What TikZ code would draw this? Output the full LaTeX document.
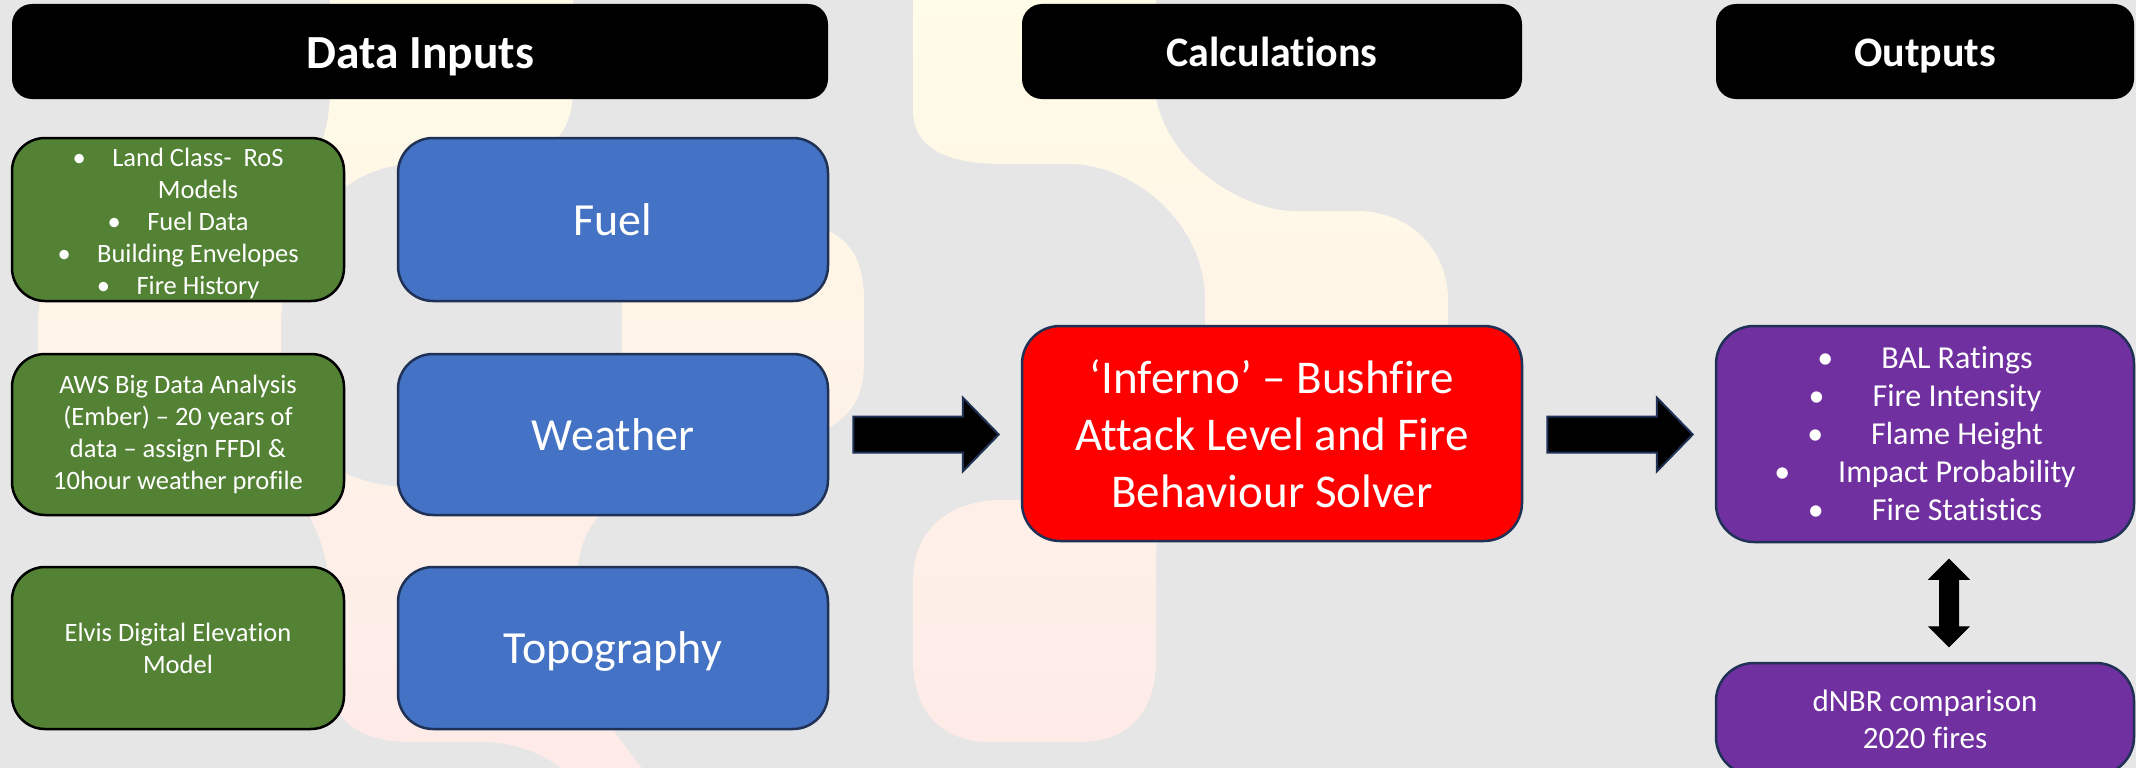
\documentclass[tikz,border=0pt]{standalone}
\usepackage{fontspec}
\setmainfont{Carlito}[Ligatures=NoCommon]
\usetikzlibrary{calc}
\definecolor{bggray}{HTML}{E6E6E6}
\definecolor{creamc}{HTML}{FFFCE7}
\definecolor{peachc}{HTML}{FEF3E8}
\definecolor{pinkc}{HTML}{FEEAE8}
\definecolor{greenf}{HTML}{548235}
\definecolor{bluef}{HTML}{4472C4}
\definecolor{navy}{HTML}{1F3155}
\definecolor{purplef}{HTML}{7030A0}
\newcommand\gbul[1]{\makebox[14pt][c]{•}\hspace{26pt}#1}
\newcommand\pbul[1]{\makebox[16pt][c]{•}\hspace{48pt}#1}
\newcommand\bgshade{\shade[top color=creamc, middle color=peachc, bottom color=pinkc] (-10,-10) rectangle (2146,778);}
\tikzset{
  hdr/.style={fill=black, rounded corners=20pt, text=white, inner sep=0pt, minimum height=95pt, text depth=0pt},
  gbox/.style={draw=black, line width=2.5pt, fill=greenf, rounded corners=33pt, text=white, align=center,
    font=\fontsize{26.5}{32}\selectfont, minimum width=332pt, inner sep=0pt},
  bbox/.style={draw=navy, line width=2.5pt, fill=bluef, rounded corners=35pt, text=white,
    font=\fontsize{46}{55}\selectfont, minimum width=430pt, minimum height=163pt, inner sep=0pt,
    text height=31pt, text depth=0pt},
  rbox/.style={draw=navy, line width=2.5pt, fill=red, rounded corners=38pt, text=white, align=center,
    font=\fontsize{47}{57}\selectfont, minimum width=500pt, minimum height=215pt, inner sep=0pt},
  pbox/.style={draw=navy, line width=2.5pt, fill=purplef, rounded corners=38pt, text=white, align=center,
    font=\fontsize{32}{38}\selectfont, minimum width=418pt, inner sep=0pt},
  blk/.style={fill=black, draw=navy, line width=2pt, line join=miter},
  blk2/.style={fill=black, draw=black, line width=1pt, line join=miter}
}
\begin{document}
\begin{tikzpicture}[x=1pt,y=-1pt]
\useasboundingbox (0,0) rectangle (2136,768);
\clip (0,0) rectangle (2136,768);
\fill[bggray] (0,0) rectangle (2136,768);
% background pipes
\begin{scope}
\clip (330,-20) -- (330,90) .. controls (330,150) and (300,211) .. (230,211) -- (140,211)
  .. controls (70,211) and (38,260) .. (38,330) -- (38,380)
  .. controls (38,440) and (80,445) .. (150,445) -- (180,445)
  .. controls (280,445) and (330,520) .. (330,600) -- (330,680)
  .. controls (330,720) and (360,742) .. (410,742) -- (480,742)
  .. controls (560,742) and (600,800) .. (630,860) -- (720,860) -- (660,790)
  .. controls (610,730) and (573,680) .. (573,620) -- (573,600)
  .. controls (573,520) and (500,487) .. (420,487) -- (400,487)
  .. controls (320,480) and (281,430) .. (281,370) -- (281,326)
  .. controls (281,250) and (330,164) .. (416,164) -- (483,164)
  .. controls (540,164) and (573,140) .. (573,90) -- (573,-20) -- cycle;
\bgshade
\end{scope}
\begin{scope}
\clip (450,560) .. controls (520,480) and (622,440) .. (622,360) -- (622,290)
  .. controls (622,245) and (645,225) .. (690,225) -- (795,225)
  .. controls (840,225) and (864,250) .. (864,300) -- (864,362)
  .. controls (864,410) and (840,436) .. (760,448)
  .. controls (650,465) and (577,500) .. (577,580) -- (540,600) -- cycle;
\bgshade
\end{scope}
\begin{scope}
\clip (913,-20) -- (913,110) .. controls (913,150) and (950,164) .. (1003,164) -- (1070,164)
  .. controls (1130,164) and (1205,220) .. (1205,300) -- (1205,340)
  .. controls (1205,440) and (1150,500) .. (1070,500) -- (1001,500)
  .. controls (950,500) and (913,530) .. (913,580) -- (913,660)
  .. controls (913,710) and (940,742) .. (990,742) -- (1080,742)
  .. controls (1130,742) and (1156,710) .. (1156,660) -- (1156,560)
  .. controls (1156,490) and (1200,450) .. (1290,450) -- (1340,450)
  .. controls (1420,450) and (1448,400) .. (1448,330) -- (1448,300)
  .. controls (1448,250) and (1410,211) .. (1357,211) -- (1294,211)
  .. controls (1250,211) and (1170,170) .. (1156,98) -- (1156,-20) -- cycle;
\bgshade
\end{scope}
% headers
\node[hdr, minimum width=816pt, text height=33pt, font=\bfseries\fontsize{47.5}{56}\selectfont] (hin) at (420,51.5) {Data Inputs};
\node[hdr, minimum width=500pt, text height=30.5pt, font=\bfseries\fontsize{42}{50}\selectfont] (hcalc) at (1272,51.5) {Calculations};
\node[hdr, minimum width=418pt, text height=30.5pt, font=\bfseries\fontsize{42}{50}\selectfont] (hout) at (1925,51.5) {Outputs};
% inputs
\node[gbox, minimum height=163pt] (g1) at (178,219.5) {\rule{0pt}{27pt}\gbul{Land Class-~~RoS}\\ \hspace*{40pt}Models\\ \gbul{Fuel Data}\\ \gbul{Building Envelopes}\\ \gbul{Fire History}};
\node[gbox, minimum height=161pt] (g2) at (178,434.5) {AWS Big Data Analysis\\ (Ember) – 20 years of\\ data – assign FFDI \&\\ 10hour weather profile};
\node[gbox, minimum height=162pt] (g3) at (178,648) {Elvis Digital Elevation\\ Model};
\node[bbox] (fuel) at (613,219.5) {Fuel};
\node[bbox, minimum height=161pt] (weather) at (613,434.5) {Weather};
\node[bbox, minimum height=162pt] (topo) at (613,648) {Topography};
% calculation
\node[rbox] (inferno) at (1272,433.5) {‘Inferno’ – Bushfire\\ Attack Level and Fire\\ Behaviour Solver};
% outputs
\node[pbox, minimum height=216pt] (out1) at (1925,434) {\pbul{BAL Ratings}\\ \pbul{Fire Intensity}\\ \pbul{Flame Height}\\ \pbul{Impact Probability}\\ \pbul{Fire Statistics}};
\node[pbox, minimum height=112pt, font=\fontsize{31}{37}\selectfont] (out2) at (1925,719) {dNBR comparison\\ 2020 fires};
% block arrows
\coordinate (a1s) at ($(weather.east)+(24,0)$);
\coordinate (a1e) at ($(inferno.west)+(-22,0)$);
\coordinate (a2s) at ($(inferno.east)+(24,1)$);
\coordinate (a2e) at ($(out1.west)+(-22,0)$);
\draw[blk] let \p1=(a1s), \p2=(a1e) in (\x1,{\y1+18pt}) -- ({\x2-36pt},{\y1+18pt}) -- ({\x2-36pt},{\y1+37pt}) -- (\x2,\y1) -- ({\x2-36pt},{\y1-37pt}) -- ({\x2-36pt},{\y1-18pt}) -- (\x1,{\y1-18pt}) -- cycle;
\draw[blk] let \p1=(a2s), \p2=(a2e) in (\x1,{\y1+18pt}) -- ({\x2-36pt},{\y1+18pt}) -- ({\x2-36pt},{\y1+37pt}) -- (\x2,\y1) -- ({\x2-36pt},{\y1-37pt}) -- ({\x2-36pt},{\y1-18pt}) -- (\x1,{\y1-18pt}) -- cycle;
% double arrow
\coordinate (da1) at ($(out1.south)+(24,16)$);
\coordinate (da2) at ($(out2.north)+(24,-15)$);
\draw[blk2] let \p1=(da1), \p2=(da2) in (\x1,\y1) -- ({\x1+20pt},{\y1-20pt}) -- ({\x1+9.5pt},{\y1-20pt}) -- ({\x1+9.5pt},{\y2+20pt}) -- ({\x1+20pt},{\y2+20pt}) -- (\x1,\y2) -- ({\x1-20pt},{\y2+20pt}) -- ({\x1-9.5pt},{\y2+20pt}) -- ({\x1-9.5pt},{\y1-20pt}) -- ({\x1-20pt},{\y1-20pt}) -- cycle;
\end{tikzpicture}
\end{document}
